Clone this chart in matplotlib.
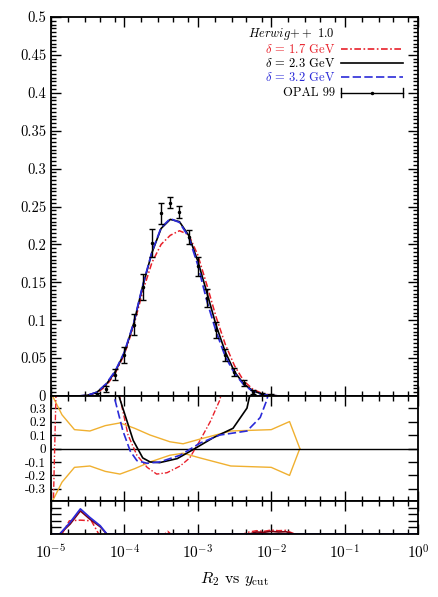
import numpy as np
import matplotlib
matplotlib.use('Agg')
import matplotlib.pyplot as plt
from matplotlib.ticker import FixedLocator, NullFormatter, FuncFormatter

plt.rcParams['font.family'] = 'serif'
plt.rcParams['font.serif'] = ['cmr10', 'DejaVu Serif']
plt.rcParams['mathtext.fontset'] = 'cm'
plt.rcParams['axes.formatter.use_mathtext'] = True

# OPAL 99 data, log10(y_cut) bin centres
data_logx = [-4.375, -4.25, -4.125, -4.0, -3.875, -3.75, -3.625, -3.5, -3.375, -3.25,
             -3.125, -3.0, -2.875, -2.75, -2.625, -2.5, -2.375, -2.25, -2.125, -2.0]
data_y = [0.002, 0.009, 0.028, 0.054, 0.094, 0.144, 0.202, 0.241, 0.255, 0.243,
          0.21, 0.171, 0.129, 0.087, 0.054, 0.032, 0.017, 0.005, 0.002, 0.001]
data_err = [0.002, 0.004, 0.007, 0.011, 0.014, 0.017, 0.018, 0.014, 0.007, 0.008,
            0.009, 0.013, 0.012, 0.011, 0.008, 0.005, 0.004, 0.003, 0.002, 0.001]

# Herwig++ curves
mc_logx = [-5.0, -4.875, -4.75, -4.625, -4.5, -4.375, -4.25, -4.125, -4.0, -3.875,
           -3.75, -3.625, -3.5, -3.375, -3.25, -3.125, -3.0, -2.875, -2.75, -2.625,
           -2.5, -2.375, -2.25, -2.125, -2.0, -1.875, -1.75, -1.5, -1.0, 0.0]
mc_17 = [0, 0, 0, 0, 0.001, 0.004, 0.013, 0.03, 0.055, 0.092,
         0.138, 0.176, 0.2, 0.212, 0.218, 0.213, 0.186, 0.146, 0.104, 0.068,
         0.04, 0.02, 0.009, 0.0035, 0.001, 0, 0, 0, 0, 0]
mc_23 = [0, 0, 0, 0, 0.001, 0.005, 0.015, 0.032, 0.057, 0.095,
         0.145, 0.189, 0.221, 0.233, 0.23, 0.212, 0.178, 0.136, 0.093, 0.058,
         0.032, 0.016, 0.007, 0.0025, 0.0008, 0, 0, 0, 0, 0]
mc_32 = [0, 0, 0, 0, 0.001, 0.005, 0.016, 0.033, 0.058, 0.096,
         0.146, 0.19, 0.222, 0.234, 0.229, 0.21, 0.173, 0.125, 0.085, 0.052,
         0.03, 0.015, 0.006, 0.002, 0.0005, 0, 0, 0, 0, 0]

# ratio panel (MC - data)/data
r17_logx = [-4.97, -4.93, -4.09, -3.95, -3.83, -3.69, -3.56, -3.42, -3.24, -3.11, -2.97, -2.83, -2.70, -2.66]
r17 = [-0.45, 0.45, 0.45, 0.1, -0.05, -0.14, -0.19, -0.18, -0.13, -0.07, 0.06, 0.2, 0.36, 0.45]
r23_logx = [-4.11, -3.88, -3.75, -3.65, -3.52, -3.28, -3.07, -2.79, -2.52, -2.33, -2.27]
r23 = [0.45, 0.06, -0.07, -0.1, -0.105, -0.075, -0.01, 0.08, 0.15, 0.3, 0.45]
r32_logx = [-4.17, -4.02, -3.92, -3.83, -3.69, -3.52, -3.24, -2.97, -2.70, -2.33, -2.15, -2.06, -2.02]
r32 = [0.45, 0.13, -0.02, -0.09, -0.11, -0.1, -0.05, 0.04, 0.1, 0.13, 0.23, 0.36, 0.45]
band_logx = [-4.97, -4.85, -4.68, -4.47, -4.26, -4.06, -3.86, -3.65, -3.38, -3.2, -2.97, -2.55, -2.0, -1.75, -1.61]
band_hw = [0.38, 0.25, 0.14, 0.13, 0.17, 0.19, 0.15, 0.1, 0.05, 0.035, 0.07, 0.13, 0.14, 0.2, 0.0]

# chi2 panel
c17_logx = [-4.85, -4.75, -4.6, -4.45, -4.35, -3.45, -3.41, -3.37, -2.38, -2.3, -2.2, -2.1, -2.0, -1.9, -1.8, -1.68]
c17 = [0, 0.4, 0.42, 0.4, 0, 0, 0.08, 0, 0, 0.06, 0.1, 0.08, 0.12, 0.1, 0.11, 0]
c23_logx = [-4.88, -4.74, -4.6, -4.47, -4.33, -4.24, -2.3, -2.2, -2.1, -2.0, -1.9, -1.8, -1.7]
c23 = [0, 0.3, 0.7, 0.45, 0.22, 0, 0, 0.06, 0.05, 0.08, 0.06, 0.07, 0]
c32_logx = [-5.0, -4.88, -4.74, -4.6, -4.47, -4.33, -4.24, 0.0]
c32 = [0, 0, 0.35, 0.76, 0.5, 0.25, 0, 0]

RED = '#e8202a'
BLUE = '#2b2bd8'
ORANGE = '#f0b030'
DASHDOT = (0, (4, 1.5, 1, 1.5))

fig = plt.figure(figsize=(4.39, 5.97), dpi=100)
L, W = 51 / 439, 367 / 439
ax = fig.add_axes([L, 1 - 396 / 597, W, 379 / 597])
axr = fig.add_axes([L, 1 - 501 / 597, W, 105 / 597])
axc = fig.add_axes([L, 1 - 534 / 597, W, 33 / 597])

x = lambda v: 10 ** np.asarray(v, dtype=float)

ax.plot(x(mc_logx), mc_17, color=RED, lw=1.1, ls=DASHDOT)
ax.plot(x(mc_logx), mc_23, color='black', lw=1.2)
ax.plot(x(mc_logx), mc_32, color=BLUE, lw=1.3, ls=(0, (5, 2)))
ax.errorbar(x(data_logx), data_y, yerr=data_err, fmt='o', ms=1.5, color='black',
            ecolor='black', elinewidth=1.0, capsize=2.5, capthick=1.0)
ax.set_ylim(0, 0.5)
ax.yaxis.set_major_locator(FixedLocator(np.round(np.arange(0, 0.501, 0.05), 3)))
ax.yaxis.set_minor_locator(FixedLocator(np.round(np.arange(0, 0.501, 0.005), 4)))
ax.yaxis.set_major_formatter(FuncFormatter(lambda v, p: '%g' % round(v, 3)))

axr.plot(x(band_logx), band_hw, color=ORANGE, lw=1.0)
axr.plot(x(band_logx), -np.asarray(band_hw), color=ORANGE, lw=1.0)
axr.axhline(0, color='black', lw=1.0)
axr.plot(x(r17_logx), r17, color=RED, lw=1.0, ls=DASHDOT)
axr.plot(x(r23_logx), r23, color='black', lw=1.2)
axr.plot(x(r32_logx), r32, color=BLUE, lw=1.2, ls=(0, (5, 2)))
axr.set_ylim(-0.39, 0.39)
axr.yaxis.set_major_locator(FixedLocator([-0.3, -0.2, -0.1, 0, 0.1, 0.2, 0.3]))
axr.yaxis.set_major_formatter(FuncFormatter(lambda v, p: '%g' % round(v, 2)))

axc.plot(x(c17_logx), c17, color=RED, lw=1.1, ls=DASHDOT)
axc.plot(x(c23_logx), c23, color='#7a0010', lw=1.2)
axc.plot(x(c32_logx), c32, color=BLUE, lw=1.3)
axc.set_ylim(0, 1)
axc.yaxis.set_major_locator(FixedLocator([0.2, 0.4, 0.6, 0.8]))
axc.yaxis.set_major_formatter(NullFormatter())
axc.set_xlabel(r'$R_2$ vs $y_{\rm cut}$', fontsize=11.5, labelpad=6)

for a in (ax, axr, axc):
    a.set_xscale('log')
    a.set_xlim(1e-5, 1)
    a.xaxis.set_minor_locator(FixedLocator(
        [d * s for d in [1e-5, 1e-4, 1e-3, 1e-2, 1e-1] for s in (1.7, 2.9, 4.6, 7.4)]))
    a.xaxis.set_minor_formatter(NullFormatter())
    a.tick_params(which='both', direction='in', top=True, right=True, labelsize=11, width=1.0)
    a.tick_params(which='major', length=7)
    a.tick_params(which='minor', length=3.5)
    for s in a.spines.values():
        s.set_linewidth(1.3)
ax.tick_params(axis='y', labelsize=10.5)
axr.tick_params(axis='y', labelsize=9.5)
for a in (ax, axr):
    a.xaxis.set_major_formatter(NullFormatter())
axc.set_xticks([1e-5, 1e-4, 1e-3, 1e-2, 1e-1, 1])
axc.tick_params(axis='x', pad=7)

# legend
tx, lx0, lx1 = 0.774, 0.79, 0.959
fs = 9
ax.text(tx, 0.955, r'$Herwig\!+\!+\ 1.0$', transform=ax.transAxes, ha='right', va='center', fontsize=fs)
rows = [(0.915, r'$\delta$ = 1.7 GeV', RED, DASHDOT),
        (0.878, r'$\delta$ = 2.3 GeV', 'black', '-'),
        (0.841, r'$\delta$ = 3.2 GeV', BLUE, (0, (5, 2)))]
for yy, lab, c, ls in rows:
    ax.text(tx, yy, lab, transform=ax.transAxes, ha='right', va='center', fontsize=fs, color=c)
    ax.plot([lx0, lx1], [yy, yy], transform=ax.transAxes, color=c, ls=ls, lw=1.2)
yy = 0.80
ax.text(tx, yy, 'OPAL 99', transform=ax.transAxes, ha='right', va='center', fontsize=fs)
ax.plot([lx0, lx1], [yy, yy], transform=ax.transAxes, color='black', lw=1.0)
ax.plot([lx0, lx0], [yy - 0.012, yy + 0.012], transform=ax.transAxes, color='black', lw=1.0)
ax.plot([lx1, lx1], [yy - 0.012, yy + 0.012], transform=ax.transAxes, color='black', lw=1.0)
ax.plot([(lx0 + lx1) / 2], [yy], 'o', ms=1.5, transform=ax.transAxes, color='black')

fig.savefig('out.png', dpi=100)
